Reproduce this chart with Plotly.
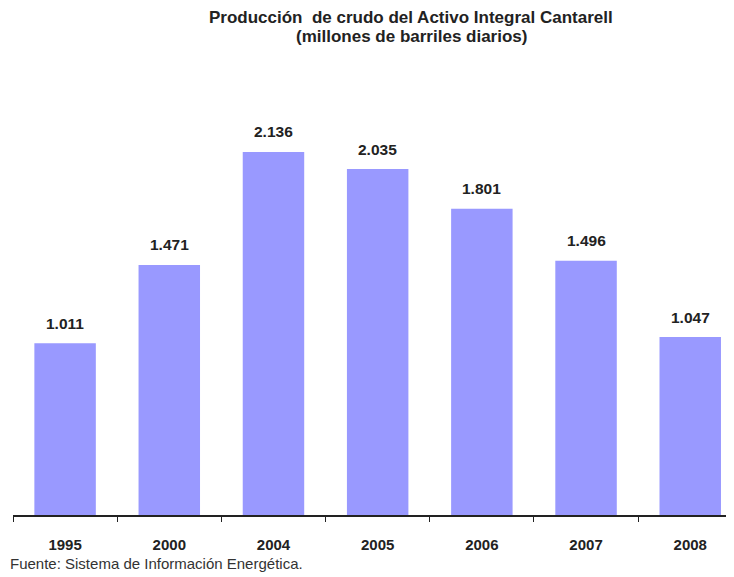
import plotly.graph_objects as go

# Producción de crudo, Cantarell (millones de barriles diarios)
years = ["1995", "2000", "2004", "2005", "2006", "2007", "2008"]
production = [1.011, 1.471, 2.136, 2.035, 1.801, 1.496, 1.047]
value_labels = ["1.011", "1.471", "2.136", "2.035", "1.801", "1.496", "1.047"]

bar_color = "#9999FF"
font_family = "Liberation Sans, Arial, sans-serif"
text_color = "#222222"

fig = go.Figure(
    go.Bar(
        x=years,
        y=production,
        marker=dict(color=bar_color, line=dict(width=0)),
        width=0.59,
        hoverinfo="x+y",
    )
)

# value labels above the bars (category index used as x)
for i, (val, lab) in enumerate(zip(production, value_labels)):
    fig.add_annotation(
        x=i, y=val, xref="x", yref="y", text="<b>" + lab + "</b>",
        showarrow=False, yanchor="middle", yshift=20,
        font=dict(family=font_family, size=15.5, color=text_color),
    )

# title, two lines
fig.add_annotation(
    x=403, y=569 - 10, xref="paper", yref="paper",
    text="<b>Producción  de crudo del Activo Integral Cantarell</b>",
    showarrow=False, xanchor="center", yanchor="middle",
    font=dict(family=font_family, size=17, color=text_color),
)
fig.add_annotation(
    x=403, y=569 - 29, xref="paper", yref="paper",
    text="<b>(millones de barriles diarios)</b>",
    showarrow=False, xanchor="center", yanchor="middle",
    font=dict(family=font_family, size=17, color=text_color),
)

# source note
fig.add_annotation(
    x=0, y=569 - 555, xref="paper", yref="paper",
    xanchor="left", yanchor="middle",
    text="Fuente: Sistema de Información Energética.",
    showarrow=False,
    font=dict(family=font_family, size=15, color="#333333"),
)

# convert the pixel positions used above into paper fractions
plot_w = 726 - 5 - 0
plot_h = 569 - 82 - 62
for ann in fig.layout.annotations:
    if ann.xref == "paper":
        ann.x = (ann.x - 5) / plot_w
        ann.y = (ann.y - 62) / plot_h

fig.update_layout(
    width=726, height=569,
    margin=dict(l=5, r=0, t=82, b=62),
    paper_bgcolor="white",
    plot_bgcolor="white",
    showlegend=False,
    xaxis=dict(
        type="category",
        range=[-0.5, 6.42],
        showline=True, linecolor=text_color, linewidth=1.5,
        ticks="outside", tickson="boundaries", ticklen=5,
        tickcolor=text_color, tickwidth=1.2,
        ticklabelstandoff=15,
        tickfont=dict(family=font_family, size=15, color=text_color),
        tickprefix="<b>", ticksuffix="</b>",
        showgrid=False, zeroline=False, fixedrange=True,
    ),
    yaxis=dict(
        range=[0, 2.5],
        visible=False, showgrid=False, zeroline=False, fixedrange=True,
    ),
)

fig.write_html("out.html")
